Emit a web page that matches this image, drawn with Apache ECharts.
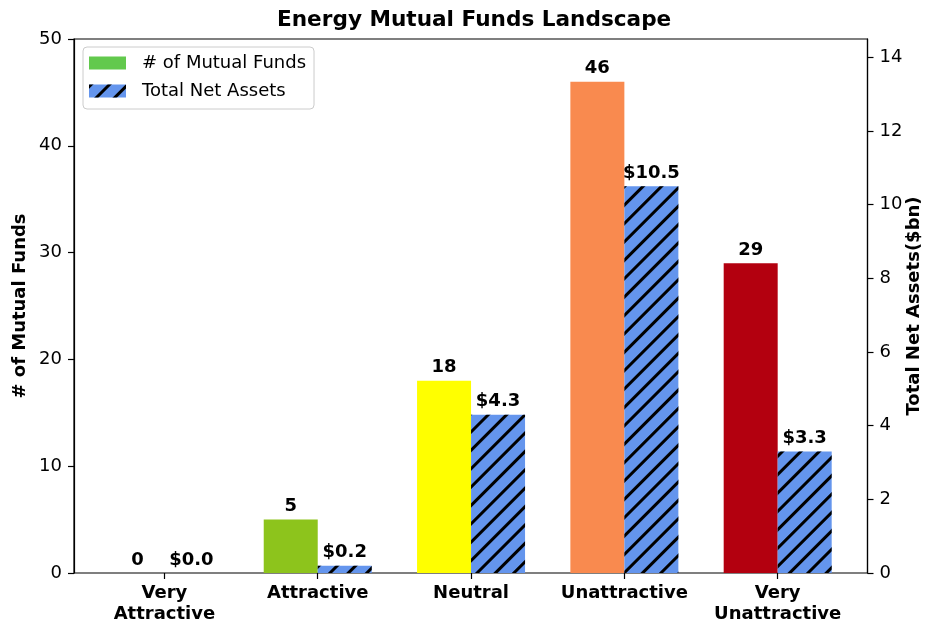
<!DOCTYPE html>
<html>
<head>
<meta charset="utf-8">
<script src="https://cdn.jsdelivr.net/npm/echarts@6/dist/echarts.min.js"></script>
<style>html,body{margin:0;padding:0;background:#fff;}#chart{width:927px;height:623px;}</style>
</head>
<body>
<div id="chart"></div>
<script>
const categories = ['Very\nAttractive', 'Attractive', 'Neutral', 'Unattractive', 'Very\nUnattractive'];
const fundCounts = [0, 5, 18, 46, 29];
const netAssets = [0.0, 0.2, 4.3, 10.5, 3.3];
const fundTicks = [0, 10, 20, 30, 40, 50];
const assetTicks = [0, 2, 4, 6, 8, 10, 12, 14];
const fundColors = ['#62c94d', '#8dc41c', '#ffff00', '#f98a4f', '#b3000f'];

const FONT = 'DejaVu Sans';
const chart = echarts.init(document.getElementById('chart'), null, {renderer: 'canvas'});
const hatch = {
  symbol: 'rect', symbolSize: 1, color: '#000',
  dashArrayX: [1, 0], dashArrayY: [3, 10], rotation: -Math.PI / 4
};
chart.setOption({
  animation: false,
  backgroundColor: '#fff',
  textStyle: {fontFamily: FONT},
  title: {
    text: 'Energy Mutual Funds Landscape', left: 272, top: 4,
    textStyle: {fontFamily: FONT, fontSize: 21.6, fontWeight: 'bold', color: '#000'}
  },
  legend: {
    orient: 'vertical', left: 83, top: 47,
    itemWidth: 37, itemHeight: 13, itemGap: 10, icon: 'rect',
    padding: [7, 8, 9, 6],
    borderColor: '#ccc', borderWidth: 1, borderRadius: 4,
    backgroundColor: 'rgba(255,255,255,0.8)',
    textStyle: {fontFamily: FONT, fontSize: 18, lineHeight: 18, color: '#000', padding: [0, 0, 0, 11]},
    data: ['# of Mutual Funds', 'Total Net Assets']
  },
  grid: [
    {left: 87.75, right: 72.65, top: 39, bottom: 50, outerBoundsMode: 'none', containLabel: false},
    {left: 74, right: 59.5, top: 39, bottom: 50, outerBoundsMode: 'none', containLabel: false,
      show: true, borderColor: '#000', borderWidth: 1.2, backgroundColor: 'transparent'}
  ],
  xAxis: [
    {
      type: 'category', gridIndex: 0, data: categories,
      axisLine: {show: false},
      axisTick: {show: true, alignWithLabel: true, length: 6, lineStyle: {color: '#000', width: 1.2}},
      axisLabel: {fontFamily: FONT, fontSize: 18, fontWeight: 'bold', color: '#000', lineHeight: 21, margin: 10, interval: 0}
    },
    {type: 'value', gridIndex: 1, show: false, min: 0, max: 1}
  ],
  yAxis: [
    {
      type: 'value', gridIndex: 1, position: 'left', min: 0, max: 50,
      axisLine: {show: true, lineStyle: {color: '#000', width: 1.2}},
      axisTick: {show: true, length: 6, lineStyle: {color: '#000', width: 1.2}, customValues: fundTicks},
      axisLabel: {fontFamily: FONT, fontSize: 18, color: '#000', margin: 12, customValues: fundTicks},
      splitLine: {show: false},
      name: '# of Mutual Funds', nameLocation: 'middle', nameGap: 45, nameRotate: 90, nameMoveOverlap: false,
      nameTextStyle: {fontFamily: FONT, fontSize: 18, fontWeight: 'bold', color: '#000'}
    },
    {
      type: 'value', gridIndex: 1, position: 'right', min: 0, max: 14.5,
      axisLine: {show: true, lineStyle: {color: '#000', width: 1.2}},
      axisTick: {show: true, length: 6, lineStyle: {color: '#000', width: 1.2}, customValues: assetTicks},
      axisLabel: {fontFamily: FONT, fontSize: 18, color: '#000', margin: 12, customValues: assetTicks},
      splitLine: {show: false},
      name: 'Total Net Assets($bn)', nameLocation: 'middle', nameGap: 38, nameRotate: 90, nameMoveOverlap: false,
      nameTextStyle: {fontFamily: FONT, fontSize: 18, fontWeight: 'bold', color: '#000'}
    },
    {type: 'value', gridIndex: 0, min: 0, max: 50, show: false},
    {type: 'value', gridIndex: 0, min: 0, max: 14.5, show: false}
  ],
  series: [
    {
      name: '# of Mutual Funds', type: 'bar', xAxisIndex: 0, yAxisIndex: 2,
      barWidth: 54, barGap: '0%',
      itemStyle: {color: '#62c94d'},
      data: fundCounts.map((v, i) => ({value: v, itemStyle: {color: fundColors[i]}})),
      label: {show: true, position: 'top', distance: 4, fontFamily: FONT, fontSize: 18, fontWeight: 'bold', color: '#000'}
    },
    {
      name: 'Total Net Assets', type: 'bar', xAxisIndex: 0, yAxisIndex: 3,
      barWidth: 54, barGap: '0%',
      itemStyle: {color: '#6495ed', decal: hatch},
      data: netAssets,
      label: {show: true, position: 'top', distance: 4, fontFamily: FONT, fontSize: 18, fontWeight: 'bold', color: '#000',
        formatter: p => '$' + p.value.toFixed(1)}
    }
  ]
});
</script>
</body>
</html>
